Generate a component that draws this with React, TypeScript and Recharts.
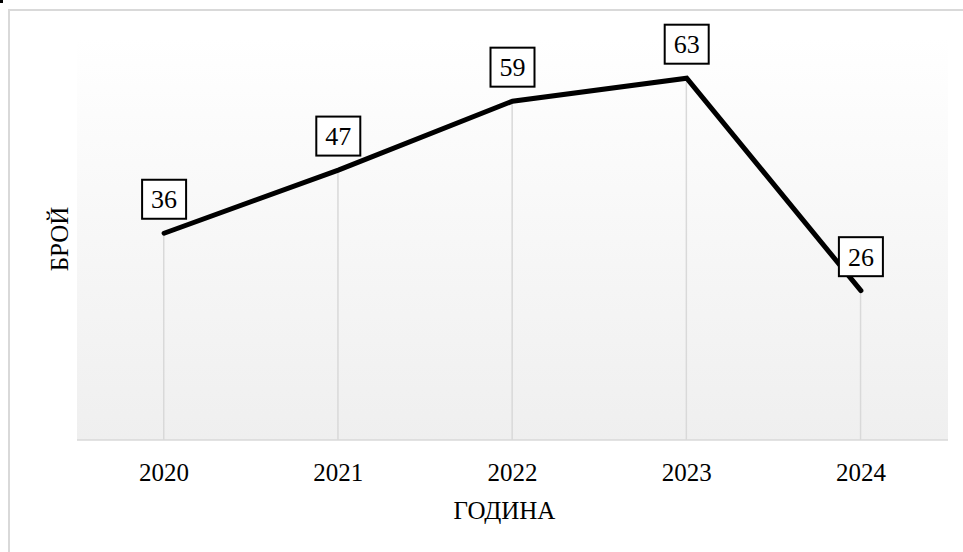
import React from "react";
import { ComposedChart, Line, Bar, XAxis, YAxis, CartesianGrid, LabelList, Label } from "recharts";

const years = ["2020", "2021", "2022", "2023", "2024"];
const counts = [36, 47, 59, 63, 26];
const yDomain = [0, 70];
const xTitle = "ГОДИНА";
const yTitle = "БРОЙ";

const data = years.map((y, i) => ({ year: y, value: counts[i] }));

const FONT = "Liberation Serif, Tinos, Times New Roman, DejaVu Serif, serif";

const BoxLabel = (props: any) => {
  const { x, y, value } = props;
  if (x == null || y == null) return null;
  const cx = x;
  const cy = y - 34;
  return (
    <g>
      <rect x={cx - 22} y={cy - 19.5} width={44} height={39} fill="#ffffff" stroke="#000000" strokeWidth={2} />
      <text x={cx} y={cy} dy="0.34em" textAnchor="middle" fontFamily={FONT} fontSize={26} fill="#000000">
        {value}
      </text>
    </g>
  );
};

export default function App() {
  return (
    <div style={{ position: "absolute", left: 0, top: 0, width: 963, height: 552, background: "#ffffff", overflow: "hidden", fontFamily: FONT }}>
      <div style={{ position: "absolute", left: 0, top: 0, width: 3, height: 3, background: "#000" }} />
      <div
        style={{
          position: "absolute",
          left: 8,
          top: 9,
          width: 1000,
          height: 600,
          border: "2px solid #d9d9d9",
          boxSizing: "border-box",
        }}
      />
      <div style={{ position: "absolute", left: 0, top: 0 }}>
        <ComposedChart
          width={963}
          height={552}
          data={data}
          margin={{ top: 38, right: 15, bottom: 22, left: 41 }}
          barCategoryGap={0}
        >
          <defs>
            <linearGradient id="plotBg" x1="0" y1="0" x2="0" y2="1">
              <stop offset="0%" stopColor="#ffffff" />
              <stop offset="100%" stopColor="#efefef" />
            </linearGradient>
          </defs>
          <CartesianGrid horizontal={false} vertical={false} fill="url(#plotBg)" fillOpacity={1} stroke="none" />
          <XAxis
            dataKey="year"
            scale="band"
            height={90}
            tickLine={false}
            tickSize={0}
            tickMargin={23}
            axisLine={{ stroke: "#d9d9d9", strokeWidth: 1.5 }}
            tick={{ fill: "#000000", fontSize: 25, fontFamily: FONT }}
            interval={0}
          >
            <Label
              value={xTitle}
              position="insideBottom"
              offset={11}
              dx={-8}
              fontFamily={FONT}
              fontSize={25}
              fill="#000000"
            />
          </XAxis>
          <YAxis domain={yDomain} width={36} tick={false} tickLine={false} axisLine={false}>
            <Label
              value={yTitle}
              angle={-90}
              position="center"
              fontFamily={FONT}
              fontSize={25}
              fill="#000000"
              textAnchor="middle"
            />
          </YAxis>
          <Bar dataKey="value" barSize={1.5} fill="#d9d9d9" isAnimationActive={false} />
          <Line
            dataKey="value"
            stroke="#000000"
            strokeWidth={5}
            strokeLinecap="round"
            dot={false}
            activeDot={false}
            isAnimationActive={false}
          >
            <LabelList dataKey="value" content={<BoxLabel />} />
          </Line>
        </ComposedChart>
      </div>
    </div>
  );
}
